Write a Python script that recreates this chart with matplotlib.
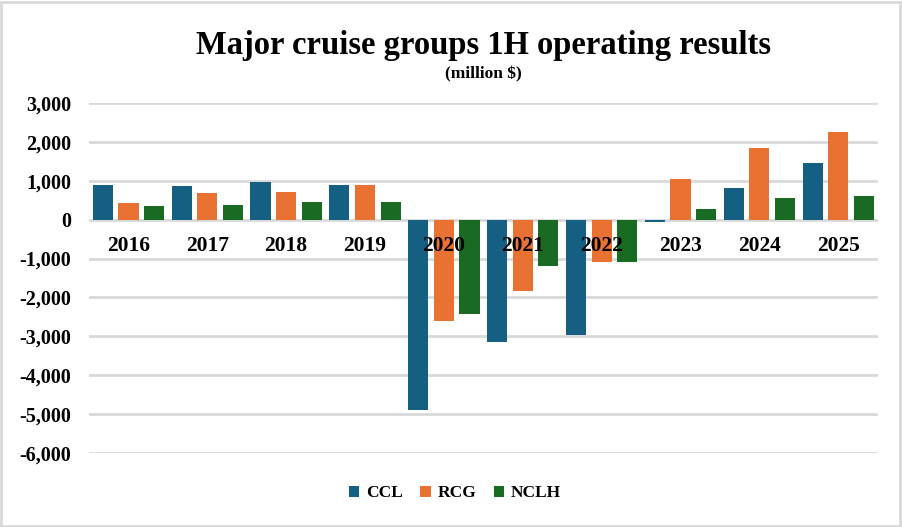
import numpy as np
import matplotlib.pyplot as plt
from matplotlib.patches import Rectangle

years = ["2016", "2017", "2018", "2019", "2020", "2021", "2022", "2023", "2024", "2025"]
ccl = [890, 865, 970, 890, -4890, -3145, -2965, -50, 815, 1460]
rcg = [430, 685, 710, 890, -2605, -1835, -1085, 1045, 1845, 2255]
nclh = [350, 380, 455, 455, -2425, -1180, -1085, 275, 560, 610]

plt.rcParams['font.family'] = ['Liberation Serif', 'DejaVu Serif']
plt.rcParams['font.weight'] = 'bold'

fig = plt.figure(figsize=(9.02, 5.27), dpi=100)
ax = fig.add_axes([0.0987, 0.1404, 0.8743, 0.6642])

x = np.arange(len(years))
w = 0.255
ax.bar(x - 0.325, ccl, w, color="#156082", label="CCL", zorder=3)
ax.bar(x, rcg, w, color="#E97132", label="RCG", zorder=3)
ax.bar(x + 0.325, nclh, w, color="#196B24", label="NCLH", zorder=3)

ax.set_xlim(-0.5, len(years) - 0.5)
ax.set_ylim(-6000, 3000)
ax.set_yticks(np.arange(-6000, 3001, 1000))
ax.set_yticklabels(["{:,}".format(v) for v in range(-6000, 3001, 1000)], fontsize=14.5, fontweight='bold')
ax.yaxis.grid(True, color="#d9d9d9", linewidth=2, zorder=0)
ax.set_xticks([])
ax.tick_params(axis='y', length=0, pad=13)
for s in ax.spines.values():
    s.set_visible(False)

for i, yr in enumerate(years):
    ax.text(i, -680, yr, ha='center', va='center', fontsize=15.5, fontweight='bold', zorder=4)

fig.text(0.536, 0.914, "Major cruise groups 1H operating results", ha='center', va='center',
         fontsize=23.5, fontweight='bold')
fig.text(0.536, 0.859, "(million $)", ha='center', va='center', fontsize=12.5, fontweight='bold')

ax.legend(loc='center', bbox_to_anchor=(0.464, -0.115), ncol=3, frameon=False, fontsize=12.5,
          handlelength=0.6, handleheight=0.6, handletextpad=0.4, columnspacing=1.0)

fig.patches.append(Rectangle((0.001, 0.002), 0.997, 0.995, transform=fig.transFigure,
                             fill=False, edgecolor="#d9d9d9", linewidth=2))

fig.savefig("out.png", dpi=100)
